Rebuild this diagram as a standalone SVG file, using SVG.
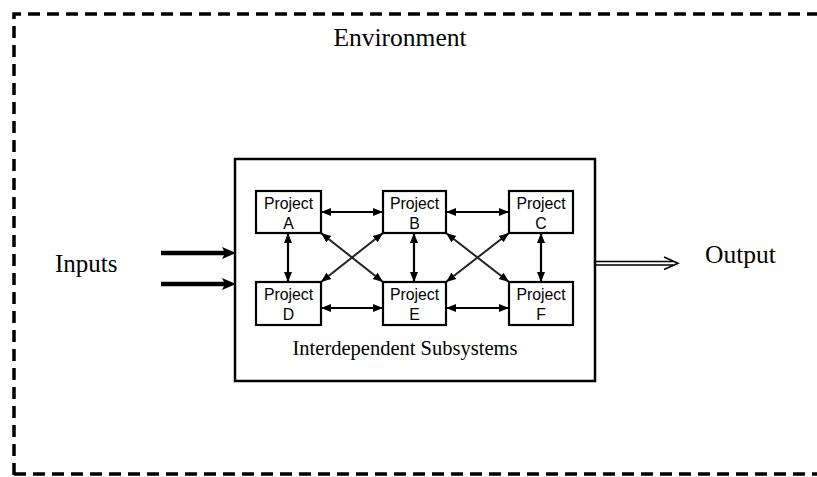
<svg xmlns="http://www.w3.org/2000/svg" width="817" height="477" viewBox="0 0 817 477">
<defs>
<style>
.serif{font-family:"Liberation Serif","Times New Roman",serif;fill:#000}
.sans{font-family:"Liberation Sans",Arial,sans-serif;font-size:15.8px;fill:#000;text-anchor:middle}
.box{fill:#fff;stroke:#000;stroke-width:2.2}
.link{stroke:#000;stroke-width:2.2;fill:none;marker-start:url(#ah);marker-end:url(#ah)}
.diag{stroke:#222;stroke-width:2;fill:none;marker-start:url(#ah);marker-end:url(#ah)}
</style>
<marker id="ah" viewBox="0 0 10 10" refX="10" refY="5" markerWidth="10" markerHeight="10" markerUnits="userSpaceOnUse" orient="auto-start-reverse">
<path d="M0,1 L10,5 L0,9 z" fill="#000"/>
</marker>
</defs>
<rect width="817" height="477" fill="#fff"/>
<g id="environment">
<path d="M14,475 L14,14 L820,14 M14,474 L820,474" fill="none" stroke="#000" stroke-width="3.5" stroke-dasharray="12,7"/>
<text class="serif" x="400" y="46" font-size="25.5" text-anchor="middle">Environment</text>
</g>
<g id="subsystems">
<rect x="235" y="159" width="360" height="222" fill="#fff" stroke="#000" stroke-width="2.5"/>
<text class="serif" x="405" y="355" font-size="20.5" text-anchor="middle">Interdependent Subsystems</text>
</g>
<g id="connectors">
<line class="link" x1="321" y1="212" x2="383" y2="212"/>
<line class="link" x1="446" y1="212" x2="509" y2="212"/>
<line class="link" x1="321" y1="308" x2="383" y2="308"/>
<line class="link" x1="446" y1="308" x2="509" y2="308"/>
<line class="link" x1="288" y1="233" x2="288" y2="282"/>
<line class="link" x1="414" y1="233" x2="414" y2="282"/>
<line class="link" x1="541" y1="233" x2="541" y2="282"/>
<line class="diag" x1="321" y1="233" x2="383" y2="282"/>
<line class="diag" x1="383" y1="233" x2="321" y2="282"/>
<line class="diag" x1="446" y1="233" x2="509" y2="282"/>
<line class="diag" x1="509" y1="233" x2="446" y2="282"/>
<g id="inputs-arrows">
<line x1="161" y1="253" x2="226" y2="253" stroke="#000" stroke-width="4.5"/>
<path d="M222,247 L236,253 L222,259 L225,253 z" fill="#000"/>
<line x1="161" y1="284" x2="226" y2="284" stroke="#000" stroke-width="4.5"/>
<path d="M222,278 L236,284 L222,290 L225,284 z" fill="#000"/>
</g>
<g id="output-arrow" fill="none" stroke="#000" stroke-width="1.6">
<line x1="595" y1="261.5" x2="673" y2="261.5"/>
<line x1="595" y1="265" x2="673" y2="265"/>
<path d="M664,257 L678,263.3 L664,269.5"/>
</g>
</g>
<text class="serif" x="55" y="272" font-size="25">Inputs</text>
<text class="serif" x="705" y="263" font-size="25.5">Output</text>
<g id="projectA"><rect class="box" x="256" y="191" width="65" height="42"/><text class="sans" x="288.5" y="209">Project</text><text class="sans" x="288.5" y="229">A</text></g>
<g id="projectB"><rect class="box" x="383" y="191" width="63" height="42"/><text class="sans" x="414.5" y="209">Project</text><text class="sans" x="414.5" y="229">B</text></g>
<g id="projectC"><rect class="box" x="509" y="191" width="64" height="42"/><text class="sans" x="541" y="209">Project</text><text class="sans" x="541" y="229">C</text></g>
<g id="projectD"><rect class="box" x="256" y="282" width="65" height="43"/><text class="sans" x="288.5" y="300">Project</text><text class="sans" x="288.5" y="320">D</text></g>
<g id="projectE"><rect class="box" x="383" y="282" width="63" height="43"/><text class="sans" x="414.5" y="300">Project</text><text class="sans" x="414.5" y="320">E</text></g>
<g id="projectF"><rect class="box" x="509" y="282" width="64" height="43"/><text class="sans" x="541" y="300">Project</text><text class="sans" x="541" y="320">F</text></g>
</svg>
